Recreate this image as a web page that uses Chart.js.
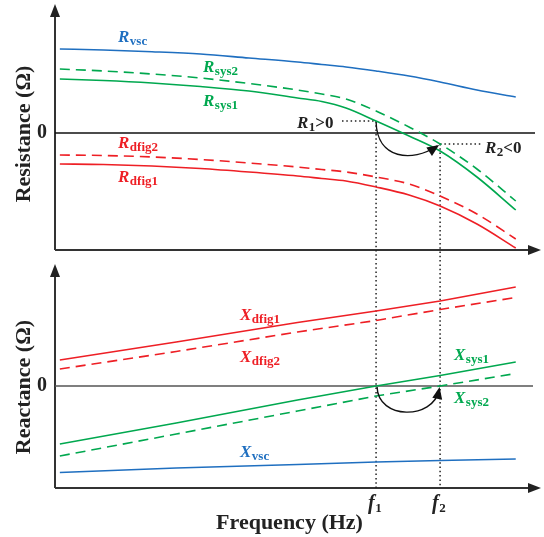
<!DOCTYPE html>
<html>
<head>
<meta charset="utf-8">
<script src="https://cdn.jsdelivr.net/npm/chart.js@4.4.1/dist/chart.umd.min.js"></script>
<style>
  html, body { margin: 0; padding: 0; background: #fff; }
  canvas { display: block; }
</style>
</head>
<body>
<canvas id="c" width="544" height="537"></canvas>
<script>
// schematic frequency axis (arbitrary units)
const f1 = 66.2, f2 = 79.4;

// resistance panel
const freqR  = [1, 10, 20, 30, 40, 50, 55, 60, f1, 73, f2, 87, 95];
const Rvsc   = [8.4, 8.3, 8.13, 7.9, 7.5, 7.1, 6.85, 6.6, 6.2, 5.7, 5.1, 4.3, 3.6];
const Rsys2  = [6.4, 6.2, 5.9, 5.5, 4.95, 4.3, 3.9, 3.4, 2.2, 0.6, -1.1, -3.6, -6.8];
const Rsys1  = [5.4, 5.25, 5.0, 4.65, 4.2, 3.5, 3.15, 2.5, 1.2, -0.3, -1.8, -4.4, -7.7];
const Rdfig2 = [-2.2, -2.25, -2.4, -2.65, -3.0, -3.4, -3.65, -3.9, -4.4, -5.1, -6.3, -8.1, -10.6];
const Rdfig1 = [-3.1, -3.15, -3.3, -3.55, -3.9, -4.3, -4.55, -4.8, -5.4, -6.2, -7.3, -9.1, -11.5];

// reactance panel
const freqX  = [1, 25, 50, f1, f2, 95];
const Xdfig1 = [2.6, 4.4, 6.35, 7.5, 8.5, 9.9];
const Xdfig2 = [1.7, 3.45, 5.4, 6.55, 7.65, 8.85];
const Xsys1  = [-5.8, -3.7, -1.4, 0, 1.05, 2.4];
const Xsys2  = [-7.0, -4.8, -2.5, -1.0, 0, 1.25];
const Xvsc   = [-8.65, -8.2, -7.85, -7.6, -7.45, -7.3];

const BLUE = '#1f6fc0', GREEN = '#00a84f', RED = '#ee1f25', INK = '#222';
const SERIF = '"Liberation Serif", "Times New Roman", serif';

const pts = (xs, ys) => xs.map((x, i) => ({ x: x, y: ys[i] }));

function serie(label, xs, ys, color, axis, dashed) {
  return {
    label: label,
    data: pts(xs, ys),
    yAxisID: axis,
    borderColor: color,
    borderWidth: 1.6,
    borderDash: dashed ? [10, 6] : [],
    pointRadius: 0,
    fill: false,
    cubicInterpolationMode: axis === 'yR' ? 'monotone' : 'default',
    tension: 0
  };
}

// label with subscript: main letter italic, subscript upright
function subLabel(ctx, x, y, main, sub, color, tail, size) {
  size = size || 17;
  ctx.fillStyle = color;
  ctx.textAlign = 'left';
  ctx.textBaseline = 'alphabetic';
  ctx.font = 'italic bold ' + size + 'px ' + SERIF;
  ctx.fillText(main, x, y);
  x += ctx.measureText(main).width + 0.5;
  ctx.font = 'bold 13px ' + SERIF;
  ctx.fillText(sub, x, y + 3);
  if (tail) {
    x += ctx.measureText(sub).width;
    ctx.font = 'bold ' + size + 'px ' + SERIF;
    ctx.fillText(tail, x, y);
  }
}

function head(ctx, tx, ty, dx, dy, len, half) {
  const n = Math.hypot(dx, dy); dx /= n; dy /= n;
  const bx = tx - dx * len, by = ty - dy * len;
  ctx.beginPath();
  ctx.moveTo(tx, ty);
  ctx.lineTo(bx - dy * half, by + dx * half);
  ctx.lineTo(bx + dy * half, by - dx * half);
  ctx.closePath();
  ctx.fill();
}

function line(ctx, x0, y0, x1, y1) {
  ctx.beginPath(); ctx.moveTo(x0, y0); ctx.lineTo(x1, y1); ctx.stroke();
}

// R1 on system 1 at f1, R2 on system 2 at f2
const r1 = () => Rsys1[freqR.indexOf(f1)];
const r2 = () => Rsys2[freqR.indexOf(f2)];

const annot = {
  id: 'annot',
  beforeDatasetsDraw(chart) {
    const { ctx, chartArea: a, scales: { x, yR, yX } } = chart;
    const L = a.left, Rt = a.right;
    const rBase = yR.bottom - 8, xBase = a.bottom;
    const zR = yR.getPixelForValue(0), zX = yX.getPixelForValue(0);
    const xf1 = x.getPixelForValue(f1), xf2 = x.getPixelForValue(f2);
    const yR1 = yR.getPixelForValue(r1());
    const yR2 = yR.getPixelForValue(r2());
    ctx.save();
    // axes
    ctx.strokeStyle = '#333'; ctx.fillStyle = '#222'; ctx.lineWidth = 2;
    line(ctx, L, rBase, L, a.top + 8);
    line(ctx, L, rBase, Rt - 8, rBase);
    head(ctx, L, a.top - 2, 0, -1, 13, 5);
    head(ctx, Rt + 1, rBase, 1, 0, 13, 5);
    line(ctx, L, xBase, L, yX.top + 14);
    line(ctx, L, xBase, Rt - 8, xBase);
    head(ctx, L, yX.top + 6, 0, -1, 13, 5);
    head(ctx, Rt + 1, xBase, 1, 0, 13, 5);
    // zero lines
    ctx.lineWidth = 1.4;
    ctx.strokeStyle = '#111';
    line(ctx, L, zR, Rt - 5, zR);
    ctx.strokeStyle = '#555';
    line(ctx, L, zX, Rt - 7, zX);
    // dotted guides
    ctx.strokeStyle = '#222'; ctx.lineWidth = 1.5;
    ctx.setLineDash([1.5, 2.8]);
    line(ctx, xf1, yR1, xf1, xBase);
    line(ctx, xf2, yR2, xf2, xBase);
    line(ctx, 342, yR1, xf1, yR1);
    line(ctx, xf2, yR2, 483, yR2);
    ctx.restore();
  },
  afterDatasetsDraw(chart) {
    const { ctx, scales: { x, yR, yX } } = chart;
    const xf1 = x.getPixelForValue(f1), xf2 = x.getPixelForValue(f2);
    const yR1 = yR.getPixelForValue(r1());
    const yR2 = yR.getPixelForValue(r2());
    const zX = yX.getPixelForValue(0);
    ctx.save();
    // curved arrows
    ctx.strokeStyle = '#111'; ctx.fillStyle = '#111'; ctx.lineWidth = 1.4;
    let sx = xf1, sy = yR1 + 1, ex = xf2 - 3, ey = yR2 + 2;
    ctx.beginPath(); ctx.moveTo(sx, sy);
    ctx.bezierCurveTo(sx + 1, sy + 37, sx + 36, sy + 41, ex, ey); ctx.stroke();
    head(ctx, ex + 2, ey - 1, ex - (sx + 36), ey - (sy + 41), 12, 5);
    sx = xf1 + 1; sy = zX + 1; ex = xf2 - 1; ey = zX + 4;
    ctx.beginPath(); ctx.moveTo(sx, sy);
    ctx.bezierCurveTo(sx + 1, sy + 33, ex - 6, sy + 33, ex, ey); ctx.stroke();
    head(ctx, ex + 0.5, ey - 3, 6, -30, 12, 5);

    // series labels
    subLabel(ctx, 118, 42, 'R', 'vsc', BLUE);
    subLabel(ctx, 203, 72, 'R', 'sys2', GREEN);
    subLabel(ctx, 203, 106, 'R', 'sys1', GREEN);
    subLabel(ctx, 118, 148, 'R', 'dfig2', RED);
    subLabel(ctx, 118, 182, 'R', 'dfig1', RED);
    subLabel(ctx, 297, 128, 'R', '1', INK, '>0');
    subLabel(ctx, 485, 153, 'R', '2', INK, '<0');
    subLabel(ctx, 240, 320, 'X', 'dfig1', RED);
    subLabel(ctx, 240, 362, 'X', 'dfig2', RED);
    subLabel(ctx, 454, 360, 'X', 'sys1', GREEN);
    subLabel(ctx, 454, 403, 'X', 'sys2', GREEN);
    subLabel(ctx, 240, 457, 'X', 'vsc', BLUE);
    subLabel(ctx, xf1 - 8, 509, 'f', '1', INK, '', 20);
    subLabel(ctx, xf2 - 8, 509, 'f', '2', INK, '', 20);

    // axis titles
    ctx.fillStyle = INK;
    ctx.font = 'bold 22px ' + SERIF;
    ctx.textAlign = 'center';
    ctx.textBaseline = 'middle';
    [['Resistance (\u03a9)', 134], ['Reactance (\u03a9)', 387]].forEach(t => {
      ctx.save();
      ctx.translate(24, t[1]);
      ctx.rotate(-Math.PI / 2);
      ctx.fillText(t[0], 0, 0);
      ctx.restore();
    });
    ctx.textBaseline = 'alphabetic';
    ctx.fillText('Frequency (Hz)', 289.5, 529);
    ctx.restore();
  }
};

function yAxis(min, max, weight) {
  return {
    type: 'linear', position: 'left', stack: 'panels', stackWeight: weight,
    min: min, max: max,
    grid: { display: false, drawTicks: false },
    border: { display: false },
    afterBuildTicks: s => { s.ticks = [{ value: 0 }]; },
    ticks: { padding: 8, color: INK, font: { family: SERIF, size: 20, weight: 'bold' } },
    afterFit: s => { s.width = 55; s.paddingTop = 0; s.paddingBottom = 0; }
  };
}

new Chart(document.getElementById('c'), {
  type: 'line',
  data: {
    datasets: [
      serie('Rvsc', freqR, Rvsc, BLUE, 'yR', false),
      serie('Rsys2', freqR, Rsys2, GREEN, 'yR', true),
      serie('Rsys1', freqR, Rsys1, GREEN, 'yR', false),
      serie('Rdfig2', freqR, Rdfig2, RED, 'yR', true),
      serie('Rdfig1', freqR, Rdfig1, RED, 'yR', false),
      serie('Xdfig1', freqX, Xdfig1, RED, 'yX', false),
      serie('Xdfig2', freqX, Xdfig2, RED, 'yX', true),
      serie('Xsys1', freqX, Xsys1, GREEN, 'yX', false),
      serie('Xsys2', freqX, Xsys2, GREEN, 'yX', true),
      serie('Xvsc', freqX, Xvsc, BLUE, 'yX', false)
    ]
  },
  options: {
    responsive: false,
    animation: false,
    layout: { padding: { top: 6, right: 4, left: 0, bottom: 0 } },
    plugins: { legend: { display: false }, tooltip: { enabled: false } },
    scales: {
      x: {
        type: 'linear', min: 0, max: 100,
        grid: { display: false, drawTicks: false },
        border: { display: false },
        ticks: { display: false },
        afterFit: s => { s.height = 49; s.paddingLeft = 0; s.paddingRight = 0; }
      },
      yX: yAxis(-10.2, 12.8, 230),
      yR: yAxis(-12.5, 12.7, 252)
    }
  },
  plugins: [annot]
});
</script>
</body>
</html>
